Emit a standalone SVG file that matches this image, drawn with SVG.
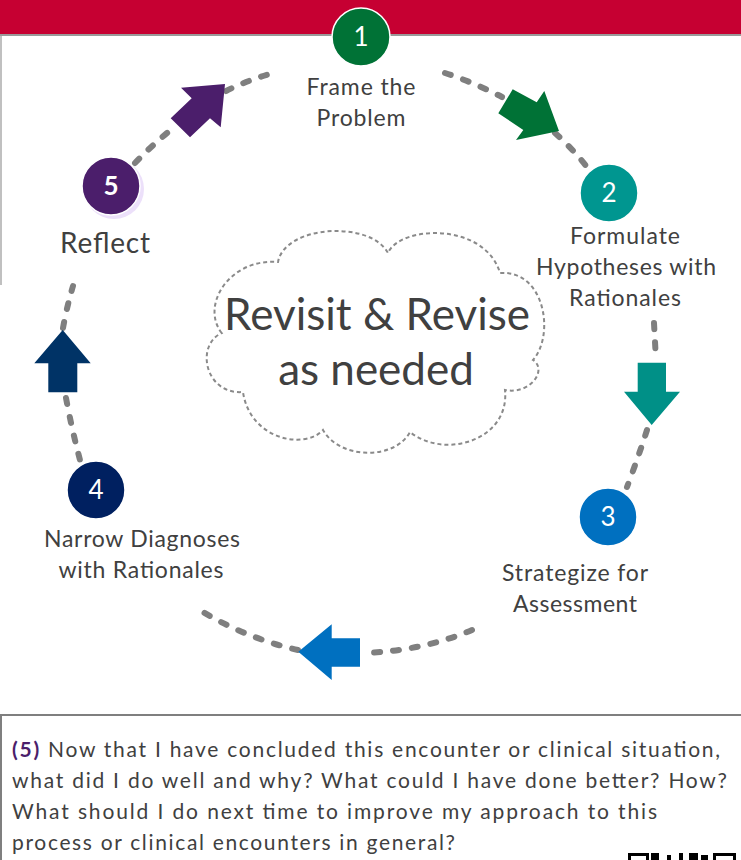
<svg xmlns="http://www.w3.org/2000/svg" width="741" height="860" viewBox="0 0 741 860">
  <style>
    .lbl { font-family: Lato, "Open Sans", "Liberation Sans", sans-serif; font-size: 23px; fill: #404040; text-anchor: middle; }
    .num { font-family: Lato, "Open Sans", "Liberation Sans", sans-serif; font-size: 26px; fill: #ffffff; text-anchor: middle; }
    .dash { fill: none; stroke: #7f7f7f; stroke-width: 6; stroke-linecap: round; stroke-dasharray: 6 13; }
    .cloud { fill: #ffffff; stroke: #8a8a8a; stroke-width: 2; stroke-dasharray: 4 3; }
    .big { font-family: Lato, "Open Sans", "Liberation Sans", sans-serif; font-size: 44px; fill: #404040; text-anchor: middle; }
    .body { font-family: Lato, "Open Sans", "Liberation Sans", sans-serif; font-size: 21px; fill: #404040; }
    .node { stroke: #ffffff; stroke-width: 1.5; }
  </style>

  <rect x="0" y="0" width="741" height="860" fill="#ffffff"/>

  <!-- header band and frame -->
  <rect x="0" y="0" width="741" height="34" fill="#c60032"/>
  <rect x="0" y="34" width="741" height="2" fill="#9a9a9a"/>
  <rect x="0" y="36" width="2" height="249" fill="#c0c0c0"/>

  <!-- center cloud -->
  <g id="cloud">
    <path class="cloud" d="M221.7,333 C200,305 230,258 278,262 C285,225 370,220 388,253 C400,225 485,222 500,273 C545,270 555,335 533,360 C548,370 530,395 505,390 C510,440 445,460 410,432 C395,460 340,460 323,430 C305,450 250,440 243,392 C205,395 195,345 221.7,333 Z"/>
    <text class="big" x="377" y="330" textLength="306" lengthAdjust="spacing">Revisit &amp; Revise</text>
    <text class="big" x="376" y="385">as needed</text>
  </g>

  <!-- cycle connectors -->
  <g id="connectors">
    <path class="dash" d="M135,163 Q155,142 177,125"/>
    <path class="dash" d="M226,91 Q250,79 277,72"/>
    <path class="dash" d="M445,73 Q475,83 502,97"/>
    <path class="dash" d="M555,133 Q572,148 587,167"/>
    <path class="dash" d="M654,323 Q655,342 656,360"/>
    <path class="dash" d="M647,430 Q638,458 627,487"/>
    <path class="dash" d="M472,630 Q425,650 367,653"/>
    <path class="dash" d="M298,650 Q245,638 198,609"/>
    <path class="dash" d="M63,328 Q67,306 73,286"/>
    <path class="dash" d="M66,398 Q72,430 80,460"/>

    <polygon fill="#007236" points="512.7,89.3 536.7,102.3 544.3,91 559,131 516,140 523.3,130 498.3,113.3"/>
    <polygon fill="#009087" points="637.7,362.7 666,362.7 666,391.7 680,391.7 651.7,425 624,391.7 637.7,391.7"/>
    <polygon fill="#0070c0" points="298.3,651.7 331.7,624.3 331.7,638.3 360,638.3 360,666.7 331.7,666.7 331.7,680"/>
    <polygon fill="#003366" points="62.7,330 90.7,363.3 77.3,363.3 77.3,392.3 48.3,392.3 48.3,363.3 34.3,363.3"/>
    <polygon fill="#4b1e6b" points="225,84 220.7,127.3 210,118.3 190,137.3 170.7,118.3 191.7,98.3 181,87.7"/>
  </g>

  <g id="node1">
    <circle class="node" cx="361" cy="37" r="29" fill="#007236"/>
    <text class="num" x="361" y="46">1</text>
    <text class="lbl" x="361" y="95" textLength="109" lengthAdjust="spacing">Frame the</text>
    <text class="lbl" x="361" y="126" textLength="89" lengthAdjust="spacing">Problem</text>
  </g>

  <g id="node2">
    <circle class="node" cx="609" cy="193" r="29" fill="#009690"/>
    <text class="num" x="609" y="202">2</text>
    <text class="lbl" x="625" y="244" textLength="110" lengthAdjust="spacing">Formulate</text>
    <text class="lbl" x="626" y="275" textLength="180" lengthAdjust="spacing">Hypotheses with</text>
    <text class="lbl" x="625" y="306" textLength="112" lengthAdjust="spacing">Rationales</text>
  </g>

  <g id="node3">
    <circle class="node" cx="608" cy="517" r="29" fill="#0070c0"/>
    <text class="num" x="608" y="526">3</text>
    <text class="lbl" x="575" y="581" textLength="146" lengthAdjust="spacing">Strategize for</text>
    <text class="lbl" x="575" y="612" textLength="124" lengthAdjust="spacing">Assessment</text>
  </g>

  <g id="node4">
    <circle class="node" cx="96" cy="490" r="29" fill="#002060"/>
    <text class="num" x="96" y="499">4</text>
    <text class="lbl" x="142" y="547" textLength="196" lengthAdjust="spacing">Narrow Diagnoses</text>
    <text class="lbl" x="141" y="578" textLength="165" lengthAdjust="spacing">with Rationales</text>
  </g>

  <g id="node5">
    <circle cx="114" cy="189" r="30" fill="#ece0fa"/>
    <circle class="node" cx="111" cy="186" r="29" fill="#4b1e6b"/>
    <text class="num" x="111" y="195" style="font-weight:bold">5</text>
    <text class="lbl" x="105" y="253" style="font-size:28px" textLength="90" lengthAdjust="spacing">Reflect</text>
  </g>

  <!-- reflection prompt box -->
  <g id="prompt">
    <rect x="0" y="714" width="741" height="2" fill="#7f7f7f"/>
    <rect x="0" y="714" width="2" height="146" fill="#7f7f7f"/>
    <text class="body" x="12" y="757" textLength="708" lengthAdjust="spacing"><tspan fill="#4b1e6b" font-weight="bold">(5)</tspan> Now that I have concluded this encounter or clinical situation,</text>
    <text class="body" x="12" y="788" textLength="715" lengthAdjust="spacing">what did I do well and why? What could I have done better? How?</text>
    <text class="body" x="12" y="819" textLength="645" lengthAdjust="spacing">What should I do next time to improve my approach to this</text>
    <text class="body" x="12" y="850" textLength="443" lengthAdjust="spacing">process or clinical encounters in general?</text>
    <g fill="#000000">
      <rect x="629.5" y="854.5" width="18" height="8" fill="none" stroke="#000" stroke-width="3"/>
      <rect x="651" y="853" width="8" height="7"/>
      <rect x="667" y="855" width="4" height="5"/>
      <rect x="679" y="853" width="4" height="7"/>
      <rect x="689" y="853" width="9" height="7"/>
      <rect x="701" y="855" width="7" height="5"/>
      <rect x="714.5" y="854.5" width="20" height="8" fill="none" stroke="#000" stroke-width="3"/>
    </g>
  </g>
</svg>
